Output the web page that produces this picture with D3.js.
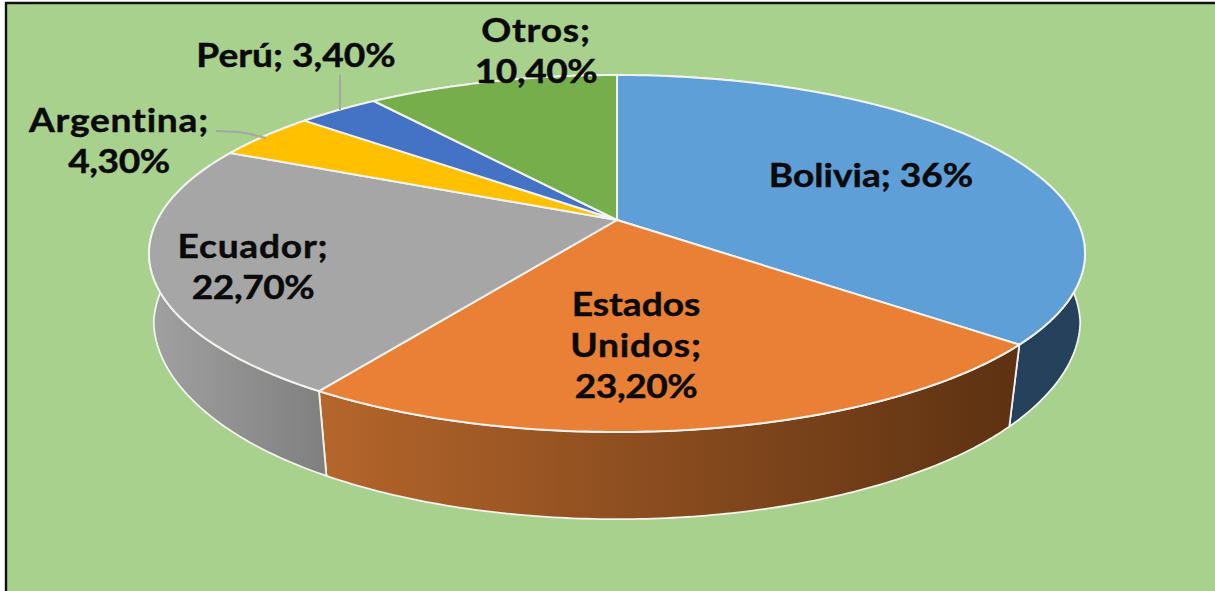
<!DOCTYPE html>
<html>
<head>
<meta charset="utf-8">
<script src="https://cdn.jsdelivr.net/npm/d3@7"></script>
<style>
  html, body { margin: 0; padding: 0; background: #fff; overflow: hidden; }
  text { font-family: Lato, "Open Sans", sans-serif; font-weight: 700; fill: #0a0a0a; stroke: #0a0a0a; stroke-width: 0.45px; }
</style>
</head>
<body>
<svg id="chart" width="1215" height="591"></svg>
<script>
const categories = ['Bolivia', 'Estados Unidos', 'Ecuador', 'Argentina', 'Perú', 'Otros'];
const values = [36, 23.2, 22.7, 4.3, 3.4, 10.4];
const valueLabels = ['36%', '23,20%', '22,70%', '4,30%', '3,40%', '10,40%'];

/* SVG frame's settings */
const width = 1215;
const height = 591;
const apex = { x: 617, y: 220, };
const fontSize = 33;
const textStretch = 1.125;

const topColors = ['#5f9fd7', '#ea8035', '#a6a6a6', '#ffc000', '#4472c4', '#75ae4b'];
const sideRamps = [
  ['#26415c', '#26415c'],
  ['#b4652b', '#5e3212'],
  ['#a0a0a0', '#7f7f7f'],
  ['#a67d00', '#a67d00'],
  ['#2c4a80', '#2c4a80'],
  ['#4c7130', '#4c7130'],
];

/* Label lines and anchor for each slice, in the same order as categories */
const labelLines = [
  [`${categories[0]}; ${valueLabels[0]}`],
  ['Estados', 'Unidos;', valueLabels[1]],
  [`${categories[2]};`, valueLabels[2]],
  [`${categories[3]};`, valueLabels[3]],
  [`${categories[4]}; ${valueLabels[4]}`],
  [`${categories[5]};`, valueLabels[5]],
];
const labelAnchors = [
  { x: 871, y: 187, },
  { x: 636, y: 316, },
  { x: 253, y: 258, },
  { x: 119, y: 132, },
  { x: 296, y: 67, },
  { x: 536, y: 42, },
];
const leaders = [
  [[340, 75], [340, 110]],
  [[216, 131], [238, 132], [266, 138]],
];

/* The disc is a circle seen in perspective: a unit circle pushed through a homography */
const persp = -0.1877;
const scaleX = d3.scaleLinear().domain([0, 1]).range([apex.x, apex.x + 459.7]);
const scaleY = d3.scaleLinear().domain([0, 1]).range([apex.y, apex.y + 172.2]);

const topPoint = angle => {
  const X = Math.sin(angle);
  const Y = -Math.cos(angle);
  const w = 1 + persp * Y;
  return [scaleX(X / w), scaleY(Y / w)];
};

/* The lower rim narrows and its drop grows toward the viewer */
const rimScale = d3.scaleLinear().domain([250, 345]).range([0.99, 0.975]).clamp(true);
const drop = d3.scaleLinear().domain([250, 345, 432]).range([72, 82, 87.2]);
const lowPoint = angle => {
  const [x, y] = topPoint(angle);
  return [apex.x + (x - apex.x) * rimScale(y), y + drop(y)];
};

const arcPoints = (fn, a0, a1) => d3.range(0, 121).map(i => fn(a0 + (a1 - a0) * i / 120));

const pie = d3.pie().sort(null).value(d => d)(values);
const line = d3.line();

const svg = d3.select('#chart');

/* Background and the frame's top and left edges */
svg.append('rect').attr('x', 6).attr('y', 3).attr('width', width).attr('height', height).attr('fill', '#a9d18e');
svg.append('path')
  .attr('d', `M6 ${height}V3H${width}`)
  .attr('fill', 'none')
  .attr('stroke', '#111')
  .attr('stroke-width', 2.4);

const defs = svg.append('defs');
sideRamps.forEach((ramp, i) => {
  const low = arcPoints(lowPoint, pie[i].startAngle, pie[i].endAngle).map(p => p[0]);
  const grad = defs.append('linearGradient')
    .attr('id', `side${i}`)
    .attr('gradientUnits', 'userSpaceOnUse')
    .attr('x1', d3.min(low)).attr('x2', d3.max(low))
    .attr('y1', 0).attr('y2', 0);
  grad.append('stop').attr('offset', 0).attr('stop-color', ramp[0]);
  grad.append('stop').attr('offset', 1).attr('stop-color', ramp[1]);
});

/* Side walls first, the top slices cover whatever is behind */
svg.append('g').selectAll('path')
  .data(pie)
  .join('path')
  .attr('d', d => {
    const top = arcPoints(topPoint, d.startAngle, d.endAngle);
    const low = arcPoints(lowPoint, d.startAngle, d.endAngle).reverse();
    return `${line(top.concat(low))}Z`;
  })
  .attr('fill', (d, i) => `url(#side${i})`)
  .attr('stroke', '#f2f2ee')
  .attr('stroke-width', 1.8)
  .attr('stroke-linejoin', 'round');

svg.append('g').selectAll('path')
  .data(pie)
  .join('path')
  .attr('d', d => {
    const rim = arcPoints(topPoint, d.startAngle, d.endAngle);
    return `${line([[apex.x, apex.y]].concat(rim))}Z`;
  })
  .attr('fill', (d, i) => topColors[i])
  .attr('stroke', '#f2f2ee')
  .attr('stroke-width', 2)
  .attr('stroke-linejoin', 'round');

/* Leader lines */
svg.append('g').selectAll('path')
  .data(leaders)
  .join('path')
  .attr('d', d3.line().curve(d3.curveMonotoneX))
  .attr('fill', 'none')
  .attr('stroke', '#a6a6a6')
  .attr('stroke-width', 2);

/* Data labels, stretched a little wider than the font draws them */
const labels = svg.append('g').selectAll('g')
  .data(labelLines)
  .join('g')
  .attr('transform', (d, i) => `translate(${labelAnchors[i].x},${labelAnchors[i].y}) scale(${textStretch},1)`);

/* Numbers sit tighter than the words in the original */
const tracking = t => {
  if (/^\d/.test(t)) return '-0.4px';
  return /;$/.test(t) ? '0.7px' : '0';
};

labels.selectAll('text')
  .data(d => d)
  .join('text')
  .attr('text-anchor', 'middle')
  .attr('font-size', fontSize)
  .attr('letter-spacing', tracking)
  .attr('y', (d, j) => j * 41)
  .text(d => d);
</script>
</body>
</html>
